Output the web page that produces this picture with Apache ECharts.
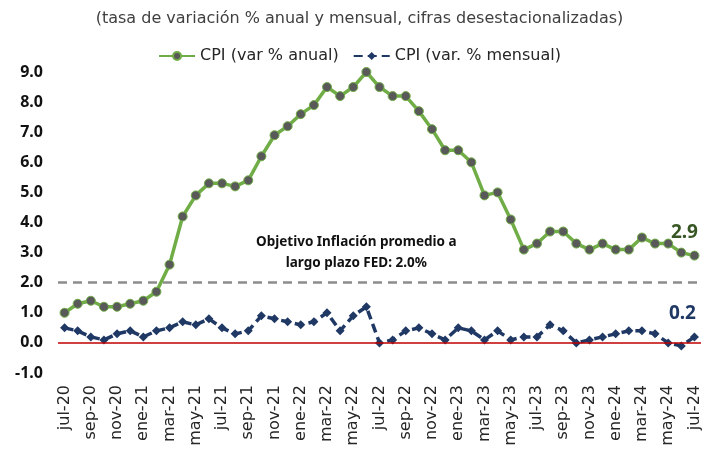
<!DOCTYPE html>
<html>
<head>
<meta charset="utf-8">
<script src="https://cdn.jsdelivr.net/npm/echarts@6/dist/echarts.min.js"></script>
<style>
html,body{margin:0;padding:0;background:#fff;}
#c{width:719px;height:457px;}
</style>
</head>
<body>
<div id="c"></div>
<script>
const categories = ["jul-20","ago-20","sep-20","oct-20","nov-20","dic-20","ene-21","feb-21","mar-21","abr-21","may-21","jun-21","jul-21","ago-21","sep-21","oct-21","nov-21","dic-21","ene-22","feb-22","mar-22","abr-22","may-22","jun-22","jul-22","ago-22","sep-22","oct-22","nov-22","dic-22","ene-23","feb-23","mar-23","abr-23","may-23","jun-23","jul-23","ago-23","sep-23","oct-23","nov-23","dic-23","ene-24","feb-24","mar-24","abr-24","may-24","jun-24","jul-24"];
const cpiAnual = [1.0,1.3,1.4,1.2,1.2,1.3,1.4,1.7,2.6,4.2,4.9,5.3,5.3,5.2,5.4,6.2,6.9,7.2,7.6,7.9,8.5,8.2,8.5,9.0,8.5,8.2,8.2,7.7,7.1,6.4,6.4,6.0,4.9,5.0,4.1,3.1,3.3,3.7,3.7,3.3,3.1,3.3,3.1,3.1,3.5,3.3,3.3,3.0,2.9];
const cpiMensual = [0.5,0.4,0.2,0.1,0.3,0.4,0.2,0.4,0.5,0.7,0.6,0.8,0.5,0.3,0.4,0.9,0.8,0.7,0.6,0.7,1.0,0.4,0.9,1.2,0.0,0.1,0.4,0.5,0.3,0.1,0.5,0.4,0.1,0.4,0.1,0.2,0.2,0.6,0.4,0.0,0.1,0.2,0.3,0.4,0.4,0.3,0.0,-0.1,0.2];
const yTicks = {min:-1, max:9, interval:1};
const targetValue = 2.0;
const titleText = "(tasa de variación % anual y mensual, cifras desestacionalizadas)";
const noteText = "Objetivo Inflación promedio a\nlargo plazo FED: 2.0%";
const seriesNames = ["CPI (var % anual)","CPI (var. % mensual)"];

const chart = echarts.init(document.getElementById('c'), null, {renderer:'canvas'});
const lastIdx = categories.length - 1;
const font = "'Noto Sans', 'DejaVu Sans', sans-serif";
const wide = "'DejaVu Sans', 'Noto Sans', sans-serif";

chart.setOption({
  animation:false,
  backgroundColor:'#ffffff',
  textStyle:{fontFamily:font},
  title:{
    text:titleText, left:'center', top:6,
    textStyle:{fontSize:16, fontWeight:'normal', color:'#404040', fontFamily:wide}
  },
  legend:{
    top:43, left:'center', itemWidth:36, itemHeight:10, itemGap:14,
    textStyle:{fontSize:16, color:'#262626', fontFamily:wide},
    data:seriesNames
  },
  grid:{left:58, right:18, top:72, bottom:84, containLabel:false},
  xAxis:{
    type:'category', data:categories, boundaryGap:true,
    axisLine:{show:false}, axisTick:{show:false},
    axisLabel:{interval:1, rotate:90, margin:12, fontSize:16, color:'#262626', fontFamily:wide}
  },
  yAxis:{
    type:'value', min:yTicks.min, max:yTicks.max, interval:yTicks.interval,
    splitLine:{show:false}, axisLine:{show:false}, axisTick:{show:false},
    axisLabel:{fontSize:16, fontWeight:'bold', color:'#111', margin:15,
      formatter:v=>v.toFixed(1), fontFamily:font}
  },
  graphic:[{
    type:'text', left:256, top:232,
    style:{text:noteText, font:"bold 13.5px 'Noto Sans', sans-serif", fill:'#111', textAlign:'center', lineHeight:21}
  }],
  series:[
    {
      name:seriesNames[0], type:'line', data:cpiAnual, z:3,
      symbol:'circle', symbolSize:9, showAllSymbol:true,
      lineStyle:{color:'#70ad47', width:3.5},
      itemStyle:{color:'#595959', borderColor:'#70ad47', borderWidth:1},
      label:{show:true, formatter:p=>p.dataIndex===lastIdx?p.value.toFixed(1):'',
        position:'top', offset:[-10,-4], fontSize:19, fontWeight:'bold', color:'#375623', fontFamily:font},
      markLine:{silent:true, symbol:'none', label:{show:false},
        lineStyle:{color:'#8c8c8c', type:[9,6], width:2.5},
        data:[{yAxis:targetValue}]}
    },
    {
      name:seriesNames[1], type:'line', data:cpiMensual, z:4,
      symbol:'diamond', symbolSize:9, showAllSymbol:true,
      lineStyle:{color:'#1f3864', width:3.5, type:[9,5]},
      itemStyle:{color:'#1f3864'},
      label:{show:true, formatter:p=>p.dataIndex===lastIdx?p.value.toFixed(1):'',
        position:'top', offset:[-12,-4], fontSize:19, fontWeight:'bold', color:'#1f3864', fontFamily:font},
      markLine:{silent:true, symbol:'none', label:{show:false},
        lineStyle:{color:'#c00000', type:'solid', width:1.5},
        data:[{yAxis:0}]}
    }
  ]
});
</script>
</body>
</html>
